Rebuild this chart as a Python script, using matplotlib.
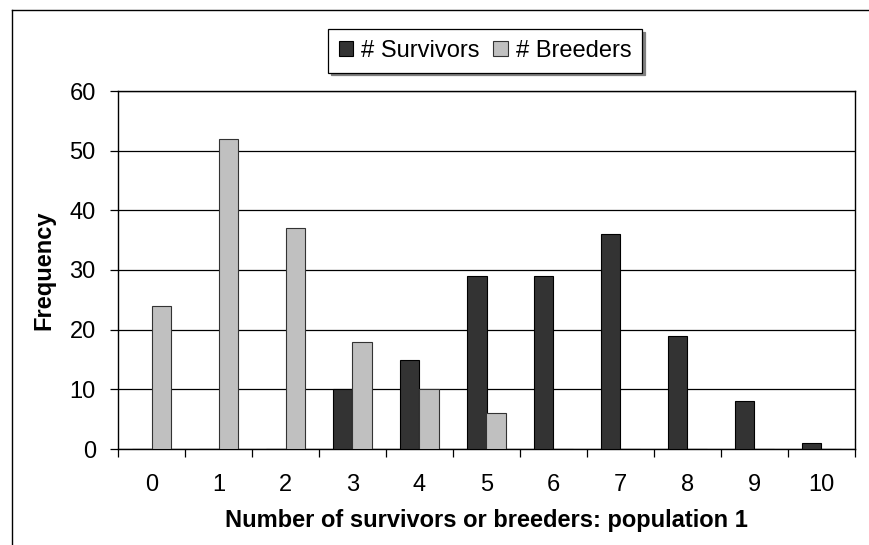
import numpy as np
import matplotlib
matplotlib.use("Agg")
import matplotlib.pyplot as plt
from matplotlib.lines import Line2D

plt.rcParams['font.family'] = ['Liberation Sans', 'DejaVu Sans']

categories = list(range(11))
survivors = [0, 0, 0, 10, 15, 29, 29, 36, 19, 8, 1]
breeders = [24, 52, 37, 18, 10, 6, 0, 0, 0, 0, 0]
yticks = [0, 10, 20, 30, 40, 50, 60]

W, H = 870, 545
fig = plt.figure(figsize=(W / 100, H / 100), dpi=100)
ax = fig.add_axes([118 / W, (H - 449) / H, (855 - 118) / W, (449 - 91) / H])

x = np.arange(len(categories))
bw = 0.29
ax.bar(x - bw / 2, survivors, width=bw, color='#333333', edgecolor='black',
       linewidth=0.8, label='# Survivors', zorder=3)
ax.bar(x + bw / 2, breeders, width=bw, color='#C0C0C0', edgecolor='#333333',
       linewidth=0.8, label='# Breeders', zorder=3)

ax.set_xlim(-0.5, len(categories) - 0.5)
ax.set_ylim(0, 60)
ax.set_yticks(yticks)
ax.set_yticklabels([str(v) for v in yticks])
ax.yaxis.grid(True, color='black', linewidth=0.9, zorder=0)
ax.set_axisbelow(True)

ax.set_xticks(x)
ax.set_xticklabels([str(c) for c in categories])
ax.set_xticks(np.arange(-0.5, len(categories), 1.0), minor=True)
ax.tick_params(axis='x', which='major', length=0, pad=18, labelsize=17)
ax.tick_params(axis='x', which='minor', length=6, width=0.9, direction='out')
ax.tick_params(axis='y', length=6, width=0.9, direction='out', pad=10, labelsize=17)

for s in ax.spines.values():
    s.set_linewidth(1.0)
    s.set_color('black')

ax.set_xlabel('Number of survivors or breeders: population 1', fontsize=17,
              fontweight='bold', labelpad=9)
ax.set_ylabel('Frequency', fontsize=17, fontweight='bold', labelpad=10)

leg = fig.legend(loc='center', bbox_to_anchor=(485 / W, 1 - 51 / H), ncol=2,
                 fontsize=17, frameon=True, fancybox=False, edgecolor='black',
                 framealpha=1, handlelength=0.63, handleheight=0.63,
                 handletextpad=0.34, columnspacing=0.55, borderpad=0.45,
                 shadow={'ox': 2, 'oy': -2, 'color': '0.5', 'alpha': 1})
leg.get_frame().set_linewidth(0.9)

fig.add_artist(Line2D([12 / W, 12 / W], [0, 1 - 10 / H], color='black',
                      linewidth=1.0, transform=fig.transFigure))
fig.add_artist(Line2D([12 / W, 1], [1 - 10 / H, 1 - 10 / H], color='black',
                      linewidth=1.0, transform=fig.transFigure))

fig.savefig('out.png', dpi=100)
